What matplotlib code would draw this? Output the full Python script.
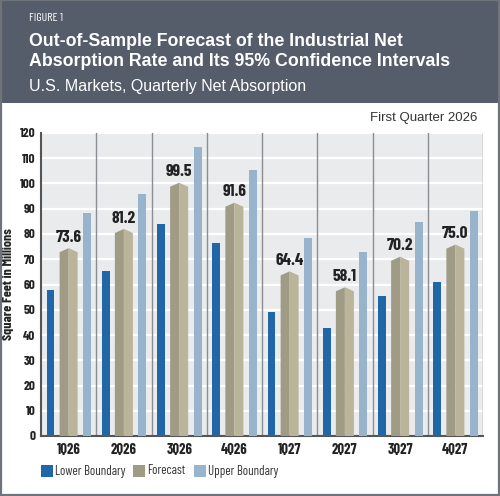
import matplotlib
matplotlib.use("Agg")
import matplotlib.pyplot as plt
from matplotlib.patches import Rectangle, Polygon
import numpy as np

categories = ["1Q26", "2Q26", "3Q26", "4Q26", "1Q27", "2Q27", "3Q27", "4Q27"]
lower = [57.8, 65.3, 83.8, 76.6, 49.2, 42.9, 55.4, 61.1]
forecast = [73.6, 81.2, 99.5, 91.6, 64.4, 58.1, 70.2, 75.0]
upper = [88.2, 95.7, 114.3, 105.3, 78.3, 72.7, 84.8, 89.2]
yticks = list(range(0, 121, 10))
legend_labels = ["Lower Boundary", "Forecast", "Upper Boundary"]

C_LOW = "#2166a6"
C_UP = "#98b3cc"
C_F_DARK = "#a09b85"
C_F_LIGHT = "#bab49b"
C_BG = "#e9ebec"
HEADER = "#565d6a"

cond = dict(family=["Barlow Condensed", "DejaVu Sans"])
plt.rcParams["font.family"] = ["Liberation Sans", "DejaVu Sans"]

fig = plt.figure(figsize=(5, 4.96), dpi=100)
W, H = 500, 496

def fx(px):
    return px / W

def fy(py):
    return 1 - py / H

# header band
fig.patches.append(Rectangle((0, fy(103)), 1, 1 - fy(103), transform=fig.transFigure,
                             facecolor=HEADER, edgecolor="none", zorder=0))
# outer border
fig.patches.append(Rectangle((fx(0.8), fy(495.2)), fx(498.4), fy(0) - fy(495.2),
                             transform=fig.transFigure, facecolor="none",
                             edgecolor="#6f737a", linewidth=1.6, zorder=1))

fig.text(fx(29), fy(18), "FIGURE 1", color="white", fontsize=8.5, va="center", ha="left", **cond)
fig.text(fx(29), fy(41), "Out-of-Sample Forecast of the Industrial Net", color="white",
         fontsize=12.8, fontweight="bold", va="center", ha="left")
fig.text(fx(29), fy(62), "Absorption Rate and Its 95% Confidence Intervals", color="white",
         fontsize=12.8, fontweight="bold", va="center", ha="left")
fig.text(fx(29), fy(86), "U.S. Markets, Quarterly Net Absorption", color="white",
         fontsize=11.5, va="center", ha="left")
fig.text(fx(477), fy(118), "First Quarter 2026", color="#333333", fontsize=9.5,
         va="center", ha="right")

ax = fig.add_axes([fx(41), fy(436), fx(483) - fx(41), fy(133) - fy(436)])
ax.set_facecolor(C_BG)
x = np.arange(len(categories))

ax.set_xlim(-0.5, len(categories) - 0.5)
ax.set_ylim(0, 120)
ax.set_yticks(yticks)
for t in yticks[1:]:
    ax.axhline(t, color="white", linewidth=1.6, zorder=1)
for i in range(1, len(categories) + 1):
    ax.axvline(i - 0.5, color="#8a8d91", linewidth=1.0, zorder=1)

ax.bar(x - 0.328, lower, width=0.136, color=C_LOW, zorder=3)
ax.bar(x + 0.333, upper, width=0.145, color=C_UP, zorder=3)

fw = 0.326
dy = 0.8
for xi, v in zip(x, forecast):
    ax.add_patch(Polygon([(xi - fw / 2, 0), (xi, 0), (xi, v + dy), (xi - fw / 2, v - dy)],
                         closed=True, facecolor=C_F_DARK, edgecolor="none", zorder=3))
    ax.add_patch(Polygon([(xi, 0), (xi + fw / 2, 0), (xi + fw / 2, v - dy), (xi, v + dy)],
                         closed=True, facecolor=C_F_LIGHT, edgecolor="none", zorder=3))
    ax.text(xi, v + dy + 1.3, f"{v:.1f}", ha="center", va="bottom", fontsize=12.5,
            fontweight="bold", color="#222222", zorder=4, **cond)

ax.set_xticks(x)
ax.set_xticklabels(categories, fontweight="bold", fontsize=10.5, color="#222222", **cond)
ax.set_yticklabels([str(t) for t in yticks], fontweight="bold", fontsize=9.5, color="#222222", **cond)
ax.tick_params(axis="both", length=0)
ax.tick_params(axis="y", pad=4)
ax.tick_params(axis="x", pad=5)
for s in ["top", "right"]:
    ax.spines[s].set_visible(False)
for s in ["left", "bottom"]:
    ax.spines[s].set_color("#555555")
    ax.spines[s].set_linewidth(1.5)
ax.set_ylabel("Square Feet in Millions", fontweight="bold", fontsize=10,
              color="#222222", **cond)
ax.yaxis.set_label_coords((14 - 41) / 442, 0.5)

# legend (manual layout of key swatches and labels)
leg_colors = [C_LOW, C_F_DARK, C_UP]
leg_x = [41, 133, 194]
for lx, col, lab in zip(leg_x, leg_colors, legend_labels):
    fig.patches.append(Rectangle((fx(lx), fy(477)), fx(12), fy(465) - fy(477),
                                 transform=fig.transFigure, facecolor=col,
                                 edgecolor="none"))
    fig.text(fx(lx + 14), fy(471), lab, fontsize=9.3, color="#333333",
             va="center", ha="left", **cond)

fig.savefig("out.png", dpi=100)
